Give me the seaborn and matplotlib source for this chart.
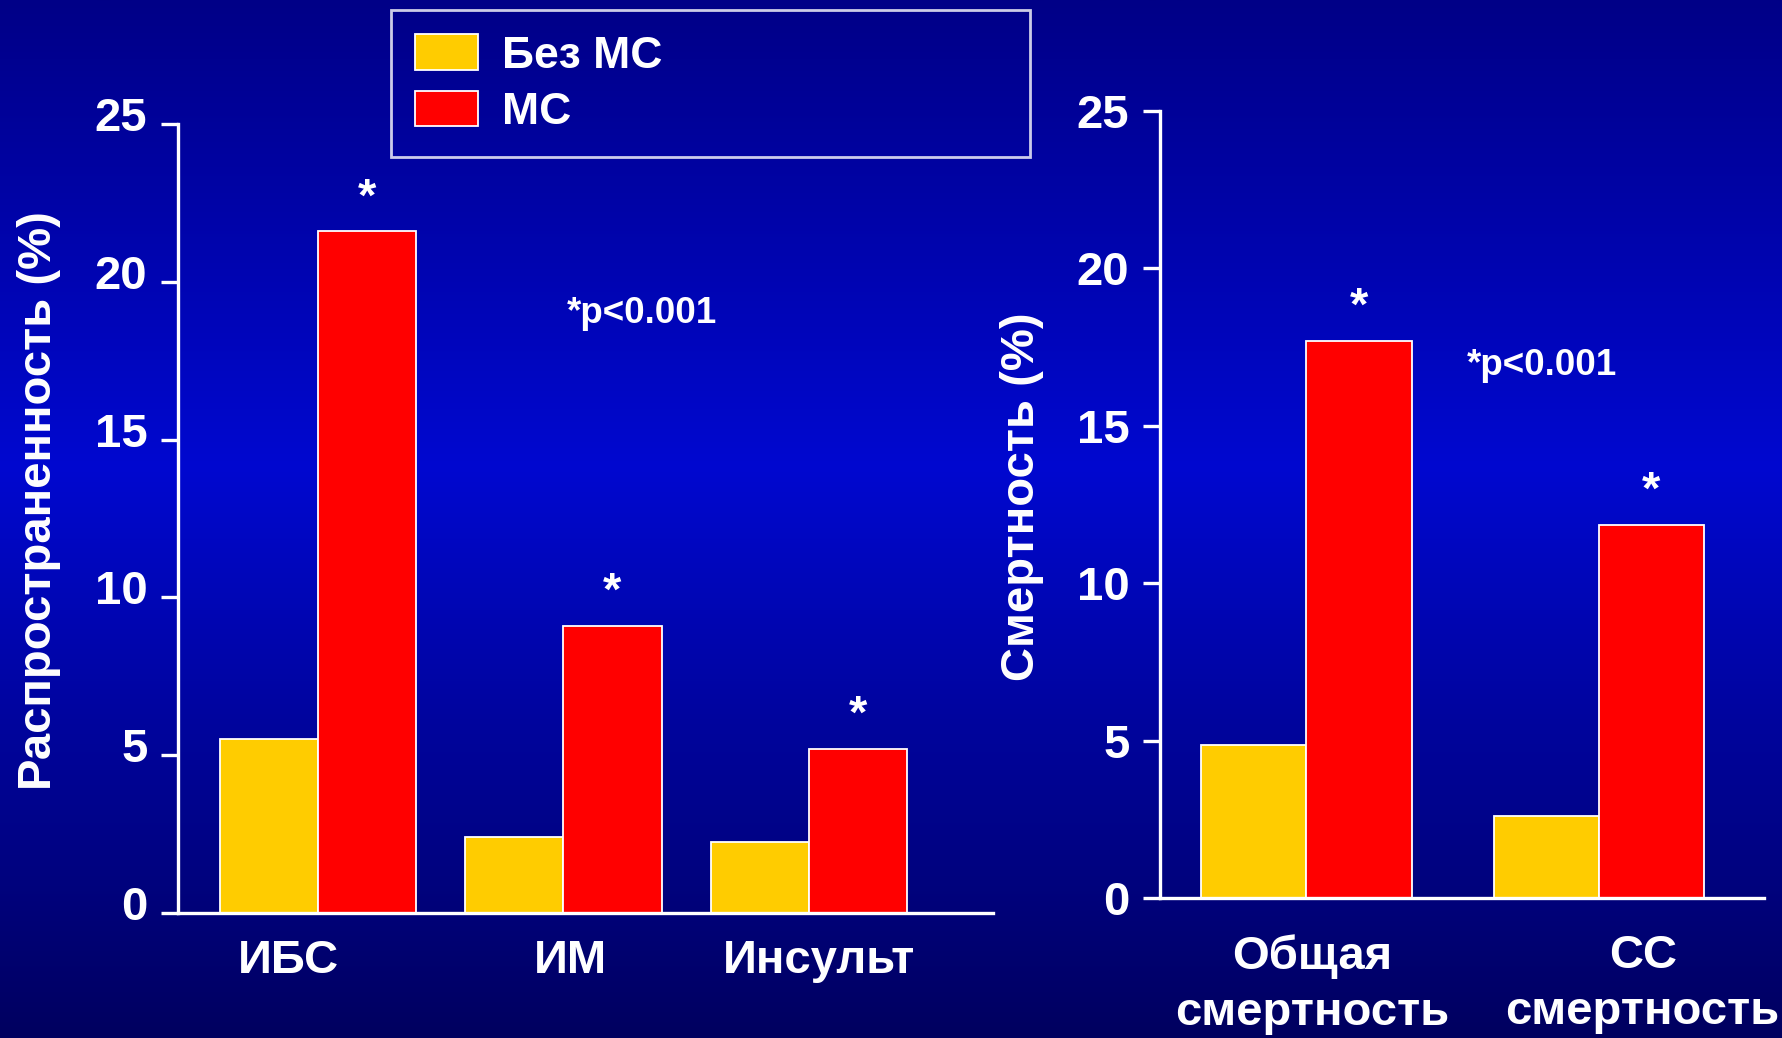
import numpy as np
import pandas as pd
import seaborn as sns
import matplotlib.pyplot as plt
from matplotlib.transforms import ScaledTranslation

# --- data ---
groups = ["Без МС", "МС"]
prev_cats = ["ИБС", "ИМ", "Инсульт"]
prev_no_ms = [5.5, 2.4, 2.25]
prev_ms = [21.6, 9.1, 5.2]
mort_cats = ["Общая\nсмертность", "СС\nсмертность"]
mort_no_ms = [4.85, 2.6]
mort_ms = [17.7, 11.85]
yticks = [0, 5, 10, 15, 20, 25]
p_note = "*p<0.001"

YELLOW = "#FFCC00"
RED = "#FF0000"
WHITE = "white"

plt.rcParams["font.family"] = ["Liberation Sans", "DejaVu Sans"]
plt.rcParams["font.weight"] = "bold"


def long_df(cats, a, b):
    return pd.DataFrame({
        "cat": cats * 2,
        "val": a + b,
        "group": [groups[0]] * len(cats) + [groups[1]] * len(cats),
    })


fig = plt.figure(figsize=(17.83, 10.38), dpi=100)

# blue gradient background (dark top/bottom, brighter in the middle)
bg = fig.add_axes([0, 0, 1, 1], zorder=-10)
stops = np.array([0.0, 0.45, 1.0])
cols = np.array([[0, 0, 135], [0, 8, 208], [0, 0, 95]]) / 255
yy = np.linspace(0, 1, 512)
grad = np.stack([np.interp(yy, stops, cols[:, i]) for i in range(3)], axis=1)
bg.imshow(grad[:, None, :], aspect="auto", extent=[0, 1, 0, 1], origin="upper")
bg.set_axis_off()

ax1 = fig.add_axes([0.0998, 0.1204, 0.4571, 0.7601])
ax2 = fig.add_axes([0.6506, 0.1349, 0.3388, 0.7582])

df1 = long_df(prev_cats, prev_no_ms, prev_ms)
df2 = long_df(mort_cats, mort_no_ms, mort_ms)

sns.barplot(data=df1, x="cat", y="val", hue="group", palette=[YELLOW, RED],
            saturation=1, edgecolor=WHITE, linewidth=1.3, width=0.8, ax=ax1)
sns.barplot(data=df2, x="cat", y="val", hue="group", palette=[YELLOW, RED],
            saturation=1, edgecolor=WHITE, linewidth=1.3, width=0.72, ax=ax2,
            legend=False)

handles, labels = ax1.get_legend_handles_labels()
ax1.get_legend().remove()

for ax, xl in [(ax1, (-0.57, 2.75)), (ax2, (-0.5, 1.565))]:
    ax.set_facecolor("none")
    ax.set_xlim(*xl)
    ax.set_ylim(0, 25)
    ax.set_yticks(yticks)
    ax.set_xlabel("")
    for s in ["top", "right"]:
        ax.spines[s].set_visible(False)
    for s in ["left", "bottom"]:
        ax.spines[s].set_color(WHITE)
        ax.spines[s].set_linewidth(2.4)
    ax.tick_params(axis="y", colors=WHITE, labelsize=34, length=12, width=2.4, pad=10)
    ax.tick_params(axis="x", colors=WHITE, labelsize=34, length=0)
    # significance stars over the MS bars
    for bar in ax.containers[1]:
        ax.annotate("*", (bar.get_x() + bar.get_width() / 2, bar.get_height()),
                    xytext=(0, 15), textcoords="offset points",
                    ha="center", va="baseline", color=WHITE, fontsize=34,
                    fontweight="bold")

# tick labels sit a little above the ticks on the left panel
for lab in ax1.get_yticklabels():
    lab.set_transform(lab.get_transform() + ScaledTranslation(0, 10 / 100, fig.dpi_scale_trans))

ax1.set_xticks([-0.12, 1.03, 2.04], prev_cats)
ax1.tick_params(axis="x", pad=19)
ax2.set_xticks([0.02, 1.15], mort_cats)
ax2.tick_params(axis="x", pad=26)
for lab in ax2.get_xticklabels():
    lab.set_linespacing(1.35)

ax1.set_ylabel("Распространенность (%)", color=WHITE, fontsize=34, fontweight="bold")
ax1.yaxis.set_label_coords(-0.143, 0.523)
ax2.set_ylabel("Смертность (%)", color=WHITE, fontsize=34, fontweight="bold")
ax2.yaxis.set_label_coords(-0.192, 0.51)

ax1.text(1.32, 19.0, p_note, color=WHITE, fontsize=26.5, fontweight="bold",
         ha="center", va="center")
ax2.text(0.805, 16.9, p_note, color=WHITE, fontsize=26.5, fontweight="bold",
         ha="center", va="center")

leg = fig.legend(handles, labels, loc="upper left",
                 bbox_to_anchor=(0.2193, 0.9904 - 0.1407, 0.3584, 0.1407),
                 mode="expand", fontsize=32, frameon=True,
                 handlelength=1.4, handleheight=0.85, handletextpad=0.55,
                 labelspacing=0.32, borderpad=0.55, borderaxespad=0,
                 fancybox=False)
leg.get_frame().set_facecolor("none")
leg.get_frame().set_edgecolor(WHITE)
leg.get_frame().set_linewidth(2)
for t in leg.get_texts():
    t.set_color(WHITE)
    t.set_fontweight("bold")

fig.savefig("out.png", dpi=100)
